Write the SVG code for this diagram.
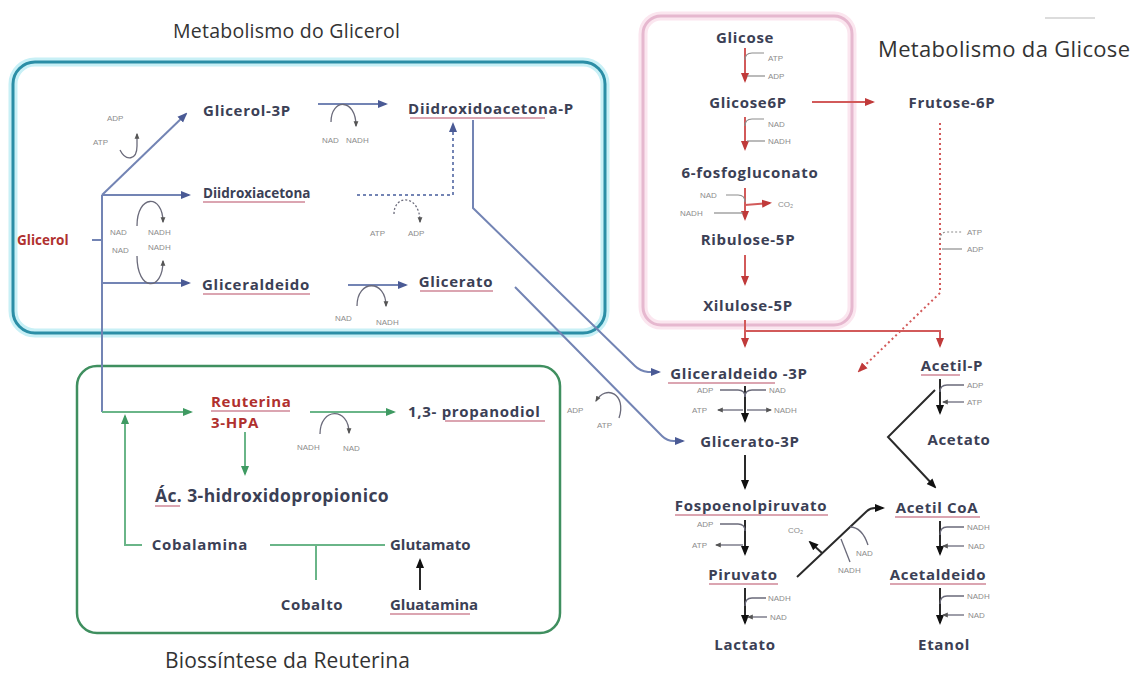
<svg xmlns="http://www.w3.org/2000/svg" width="1138" height="677" viewBox="0 0 1138 677">
<style>
.t{font-family:"Open Sans","Liberation Sans",sans-serif;font-weight:bold;font-size:15px;letter-spacing:0.7px;fill:#3b4055}
.tr{fill:#b0302e}
.title{font-family:"Open Sans","Liberation Sans",sans-serif;font-size:19.5px;fill:#333}
.s{font-family:"Liberation Sans",Arial,sans-serif;font-size:8px;fill:#8c8c8c}
.ul{stroke:#d08898;stroke-width:1.3;fill:none}
.b{stroke:#7384b4;stroke-width:2;fill:none}
.g{stroke:#6ab588;stroke-width:2;fill:none}
.r{stroke:#d25a5a;stroke-width:2;fill:none}
.k{stroke:#2a2a2a;stroke-width:2;fill:none}
.h{stroke:#8c8c8c;stroke-width:1.2;fill:none}
.hb{stroke:#6a6a7a;stroke-width:1.3;fill:none}
</style>
<defs>
<marker id="ab" viewBox="0 0 10 10" refX="8" refY="5" markerWidth="10" markerHeight="10" markerUnits="userSpaceOnUse" orient="auto"><path d="M0,1 L10,5 L0,9 z" fill="#4a5a95"/></marker>
<marker id="ag" viewBox="0 0 10 10" refX="8" refY="5" markerWidth="10" markerHeight="10" markerUnits="userSpaceOnUse" orient="auto"><path d="M0,1 L10,5 L0,9 z" fill="#3f9a62"/></marker>
<marker id="ar" viewBox="0 0 10 10" refX="8" refY="5" markerWidth="10" markerHeight="10" markerUnits="userSpaceOnUse" orient="auto"><path d="M0,1 L10,5 L0,9 z" fill="#c03a3a"/></marker>
<marker id="ak" viewBox="0 0 10 10" refX="8" refY="5" markerWidth="10" markerHeight="10" markerUnits="userSpaceOnUse" orient="auto"><path d="M0,1 L10,5 L0,9 z" fill="#111"/></marker>
<marker id="as" viewBox="0 0 10 10" refX="8" refY="5" markerWidth="6" markerHeight="6" markerUnits="userSpaceOnUse" orient="auto"><path d="M0,1 L10,5 L0,9 z" fill="#555"/></marker>
</defs>
<rect width="1138" height="677" fill="#fff"/>
<line x1="1045" y1="18" x2="1095" y2="18" stroke="#d0d0d0" stroke-width="1.5"/>

<g id="boxes">
<rect x="13" y="62" width="592" height="271" rx="22" fill="none" stroke="#c8f0f6" stroke-width="9"/>
<rect x="13" y="62" width="592" height="271" rx="22" fill="none" stroke="#2b8ea6" stroke-width="3"/>
<rect x="643" y="16" width="209" height="309" rx="18" fill="none" stroke="#fbe6ef" stroke-width="9"/>
<rect x="643" y="16" width="209" height="309" rx="18" fill="none" stroke="#e6b8cf" stroke-width="3"/>
<rect x="77" y="366" width="483" height="267" rx="20" fill="none" stroke="#3f8f5f" stroke-width="2.5"/>
</g>

<g id="titles">
<text class="title" x="173" y="38" textLength="227">Metabolismo do Glicerol</text>
<text class="title" x="878" y="57" style="font-size:22px" textLength="252">Metabolismo da Glicose</text>
<text class="title" x="165" y="668" style="font-size:21px" textLength="245">Biossíntese da Reuterina</text>
</g>

<g id="connectors">
<!-- glycerol -->
<path class="b" d="M102,195 V412"/>
<path class="b" d="M92,240 H102"/>
<path class="b" d="M102,195 L186,114" marker-end="url(#ab)"/>
<path class="b" d="M102,195 H189" marker-end="url(#ab)"/>
<path class="b" d="M102,283 H189" marker-end="url(#ab)"/>
<path class="b" d="M318,104 H386" marker-end="url(#ab)"/>
<path class="b" d="M348,285 H406" marker-end="url(#ab)"/>
<path class="b" d="M357,195 H453 V124" stroke-dasharray="3,3" stroke="#8f9cc4" marker-end="url(#ab)"/>
<path class="b" d="M473,120 V208 L635,366 Q640,371 648,372 L659,372" stroke="#7a86ad" marker-end="url(#ab)"/>
<path class="b" d="M515,287 L662,436 Q667,441 674,441 L683,441" stroke="#7a86ad" marker-end="url(#ab)"/>
<!-- glycerol side hooks -->
<path class="hb" d="M120,150 C126,162 137,160 137,146 L137,134" marker-end="url(#as)"/>
<path class="hb" d="M137,226 C137,194 163,194 163,222" marker-end="url(#as)"/>
<path class="hb" d="M137,256 C137,292 163,292 163,261" marker-end="url(#as)"/>
<path class="hb" d="M331,122 C331,98 356,98 356,126" marker-end="url(#as)"/>
<path class="hb" d="M357,306 C357,279 386,279 386,306" marker-end="url(#as)"/>
<path class="hb" d="M394,214 C394,194 420,194 420,222" stroke-dasharray="2,2" marker-end="url(#as)"/>
<path class="hb" d="M619,418 C627,394 606,384 596,401" marker-end="url(#as)"/>
<!-- reuterina -->
<path class="g" d="M102,412 H191" marker-end="url(#ag)"/>
<path class="g" d="M245,432 V474" marker-end="url(#ag)"/>
<path class="g" d="M310,412 H394" marker-end="url(#ag)"/>
<path class="g" d="M142,545 H125 V416" marker-end="url(#ag)"/>
<path class="g" d="M270,545 H385 M316,545 V580"/>
<path class="hb" d="M320,434 C320,407 349,407 349,433" marker-end="url(#as)"/>
<path class="k" d="M420,590 V560" stroke-width="1.5" marker-end="url(#ak)"/>
<!-- glucose (red) -->
<path class="r" d="M745,48 V81" marker-end="url(#ar)"/>
<path class="r" d="M812,102 H873" marker-end="url(#ar)"/>
<path class="r" d="M745,117 V149" marker-end="url(#ar)"/>
<path class="r" d="M745,188 V219" marker-end="url(#ar)"/>
<path class="r" d="M745,205 L770,203" marker-end="url(#ar)"/>
<path class="r" d="M745,255 V284" marker-end="url(#ar)"/>
<path class="r" d="M745,320 V346" marker-end="url(#ar)"/>
<path class="r" d="M745,331 H940 V346" marker-end="url(#ar)"/>
<path class="r" d="M940,123 V293 L859,371" stroke="#e08a8a" stroke-dasharray="2,3" marker-end="url(#ar)"/>
<!-- red side hooks -->
<path class="h" d="M745,60 Q745,53 752,53 H764"/>
<path class="h" d="M747,76 H765"/>
<path class="h" d="M745,126 Q745,119 752,119 H764"/>
<path class="h" d="M747,141 H765"/>
<path class="h" d="M745,202 Q745,195 738,195 H726"/>
<path class="h" d="M743,213 H714"/>
<path class="h" d="M940,240 Q940,232 947,232 H962" stroke-dasharray="2,2"/>
<path class="h" d="M942,249 H962"/>
<!-- black column -->
<path class="k" d="M745,386 V421" marker-end="url(#ak)"/>
<path class="k" d="M745,455 V488" marker-end="url(#ak)"/>
<path class="k" d="M745,520 V554" marker-end="url(#ak)"/>
<path class="k" d="M745,588 V623" marker-end="url(#ak)"/>
<path class="k" d="M940,379 V413" marker-end="url(#ak)"/>
<path class="k" d="M940,521 V554" marker-end="url(#ak)"/>
<path class="k" d="M940,588 V623" marker-end="url(#ak)"/>
<path class="k" d="M935,390 L888,437 L935,487" stroke="#555" stroke-width="3" marker-end="url(#ak)"/>
<path class="k" d="M797,577 L867,511 Q870,508 875,508 L883,508" stroke-width="1.8" marker-end="url(#ak)"/>
<path class="k" d="M822,553 L810,542" stroke-width="1.5" marker-end="url(#ak)"/>
<path class="hb" d="M850,527 Q862,527 868,545" stroke="#333"/>
<path class="hb" d="M841,539 L850,562" stroke="#333"/>
<!-- black side hooks -->
<path class="hb" d="M745,397 Q745,390 738,390 H720"/>
<path class="hb" d="M745,397 Q745,390 752,390 H766"/>
<path class="hb" d="M743,410 H718" marker-end="url(#as)"/>
<path class="hb" d="M747,410 H771" marker-end="url(#as)"/>
<path class="hb" d="M745,531 Q745,524 738,524 H720"/>
<path class="hb" d="M743,545 H716" marker-end="url(#as)"/>
<path class="hb" d="M745,606 Q745,598 752,598 H766"/>
<path class="hb" d="M767,617 H748" marker-end="url(#as)"/>
<path class="hb" d="M940,392 Q940,385 947,385 H964"/>
<path class="hb" d="M964,402 H943" marker-end="url(#as)"/>
<path class="hb" d="M940,535 Q940,527 947,527 H964"/>
<path class="hb" d="M964,546 H943" marker-end="url(#as)"/>
<path class="hb" d="M940,604 Q940,596 947,596 H964"/>
<path class="hb" d="M964,615 H943" marker-end="url(#as)"/>
</g>

<g id="underlines">
<path class="ul" d="M410,118 H545 M203,202 H305 M203,294 H310 M420,291 H493 M211,411 H290 M445,421 H545 M155,506 H180 M390,614 H470 M668,383 H775 M675,515 H828 M709,584 H778 M921,375 H960 M895,517 H980 M890,584 H986"/>
</g>

<g id="n-glicerol"><text class="t tr" x="17" y="245" style="font-size:13.5px;letter-spacing:0">Glicerol</text></g>
<g id="n-glicerol3p"><text class="t" x="247" y="116" text-anchor="middle">Glicerol-3P</text></g>
<g id="n-dhap"><text class="t" x="491" y="114" text-anchor="middle">Diidroxidoacetona-P</text></g>
<g id="n-dha"><text class="t" x="203" y="198" style="font-size:13.5px;letter-spacing:0">Diidroxiacetona</text></g>
<g id="n-gliceraldeido"><text class="t" x="256" y="290" text-anchor="middle">Gliceraldeido</text></g>
<g id="n-glicerato"><text class="t" x="456" y="287" text-anchor="middle">Glicerato</text></g>
<g id="n-reuterina"><text class="t tr" x="211" y="407">Reuterina</text><text class="t tr" x="211" y="428">3-HPA</text></g>
<g id="n-propanodiol"><text class="t" x="408" y="417">1,3- propanodiol</text></g>
<g id="n-ac3hp"><text class="t" x="155" y="502" style="font-size:17.5px;letter-spacing:0.4px">Ác. 3-hidroxidopropionico</text></g>
<g id="n-cobalamina"><text class="t" x="200" y="550" text-anchor="middle">Cobalamina</text></g>
<g id="n-glutamato"><text class="t" x="390" y="550" style="letter-spacing:0">Glutamato</text></g>
<g id="n-cobalto"><text class="t" x="312" y="610" text-anchor="middle">Cobalto</text></g>
<g id="n-gluatamina"><text class="t" x="390" y="610" style="letter-spacing:0">Gluatamina</text></g>
<g id="n-glicose"><text class="t" x="745" y="43" text-anchor="middle">Glicose</text></g>
<g id="n-glicose6p"><text class="t" x="748" y="108" text-anchor="middle">Glicose6P</text></g>
<g id="n-6fosfo"><text class="t" x="750" y="178" text-anchor="middle">6-fosfogluconato</text></g>
<g id="n-ribulose"><text class="t" x="748" y="245" text-anchor="middle">Ribulose-5P</text></g>
<g id="n-xilulose"><text class="t" x="748" y="311" text-anchor="middle">Xilulose-5P</text></g>
<g id="n-frutose"><text class="t" x="952" y="108" text-anchor="middle">Frutose-6P</text></g>
<g id="n-g3p"><text class="t" x="739" y="379" text-anchor="middle">Gliceraldeido -3P</text></g>
<g id="n-glicerato3p"><text class="t" x="750" y="447" text-anchor="middle">Glicerato-3P</text></g>
<g id="n-pep"><text class="t" x="751" y="511" text-anchor="middle">Fospoenolpiruvato</text></g>
<g id="n-piruvato"><text class="t" x="743" y="580" text-anchor="middle">Piruvato</text></g>
<g id="n-lactato"><text class="t" x="745" y="650" text-anchor="middle">Lactato</text></g>
<g id="n-acetilp"><text class="t" x="952" y="371" text-anchor="middle">Acetil-P</text></g>
<g id="n-acetato"><text class="t" x="959" y="445" text-anchor="middle">Acetato</text></g>
<g id="n-acetilcoa"><text class="t" x="937" y="513" text-anchor="middle">Acetil CoA</text></g>
<g id="n-acetaldeido"><text class="t" x="938" y="580" text-anchor="middle">Acetaldeido</text></g>
<g id="n-etanol"><text class="t" x="944" y="650" text-anchor="middle">Etanol</text></g>

<g id="cofactors">
<text class="s" x="107" y="121">ADP</text>
<text class="s" x="93" y="145">ATP</text>
<text class="s" x="110" y="235">NAD</text>
<text class="s" x="148" y="235">NADH</text>
<text class="s" x="112" y="253">NAD</text>
<text class="s" x="148" y="250">NADH</text>
<text class="s" x="322" y="143">NAD</text>
<text class="s" x="346" y="143">NADH</text>
<text class="s" x="370" y="236">ATP</text>
<text class="s" x="408" y="236">ADP</text>
<text class="s" x="335" y="321">NAD</text>
<text class="s" x="376" y="325">NADH</text>
<text class="s" x="567" y="413">ADP</text>
<text class="s" x="597" y="428">ATP</text>
<text class="s" x="297" y="450">NADH</text>
<text class="s" x="343" y="451">NAD</text>
<text class="s" x="768" y="61">ATP</text>
<text class="s" x="768" y="79">ADP</text>
<text class="s" x="768" y="127">NAD</text>
<text class="s" x="768" y="144">NADH</text>
<text class="s" x="700" y="198">NAD</text>
<text class="s" x="680" y="216">NADH</text>
<text class="s" x="778" y="207">CO₂</text>
<text class="s" x="967" y="235">ATP</text>
<text class="s" x="967" y="252">ADP</text>
<text class="s" x="697" y="393">ADP</text>
<text class="s" x="692" y="413">ATP</text>
<text class="s" x="769" y="393">NAD</text>
<text class="s" x="774" y="413">NADH</text>
<text class="s" x="697" y="527">ADP</text>
<text class="s" x="692" y="548">ATP</text>
<text class="s" x="768" y="601">NADH</text>
<text class="s" x="770" y="620">NAD</text>
<text class="s" x="788" y="533">CO₂</text>
<text class="s" x="856" y="556">NAD</text>
<text class="s" x="838" y="573">NADH</text>
<text class="s" x="967" y="388">ADP</text>
<text class="s" x="967" y="405">ATP</text>
<text class="s" x="967" y="530">NADH</text>
<text class="s" x="968" y="549">NAD</text>
<text class="s" x="967" y="599">NADH</text>
<text class="s" x="968" y="618">NAD</text>
</g>
</svg>
